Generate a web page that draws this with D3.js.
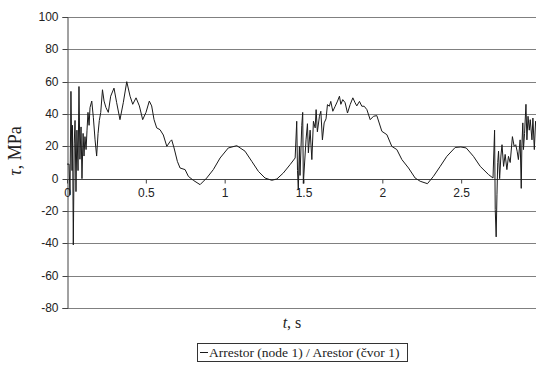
<!DOCTYPE html>
<html><head><meta charset="utf-8">
<script src="https://cdn.jsdelivr.net/npm/d3@7"></script>
<style>html,body{margin:0;padding:0;background:#fff;}svg{display:block;}</style>
</head><body>
<svg id="chart" width="536" height="370"></svg>
<script>
// Time (s) and shear stress (MPa)
const times = [0.000,0.013,0.019,0.025,0.032,0.035,0.040,0.046,0.051,0.057,0.063,0.070,0.076,0.082,0.089,0.095,0.102,0.108,0.114,0.121,0.127,0.133,0.140,0.146,0.157,0.167,0.178,0.188,0.197,0.205,0.214,0.225,0.235,0.247,0.262,0.277,0.298,0.315,0.336,0.357,0.379,0.400,0.417,0.438,0.459,0.480,0.501,0.522,0.537,0.552,0.569,0.590,0.611,0.633,0.654,0.664,0.679,0.700,0.717,0.749,0.770,0.801,0.844,0.886,0.928,0.971,1.023,1.077,1.129,1.172,1.214,1.256,1.299,1.331,1.372,1.415,1.447,
1.457,1.462,1.467,1.474,1.478,1.489,1.495,1.499,1.516,1.525,1.531,1.542,1.553,1.563,1.574,1.580,1.588,1.601,1.610,1.620,1.631,1.643,1.652,1.664,1.673,1.686,1.701,1.716,1.728,1.737,1.749,1.764,1.779,1.796,1.813,1.827,1.838,1.855,1.870,1.885,1.902,1.923,1.944,1.965,1.997,2.029,2.060,2.092,2.124,2.166,2.208,2.240,2.286,2.324,2.367,2.409,2.462,2.498,2.532,2.578,2.621,2.674,2.702,
2.712,2.716,2.722,2.727,2.732,2.737,2.744,2.752,2.759,2.769,2.779,2.790,2.800,2.811,2.825,2.836,2.846,2.855,2.863,2.874,2.881,2.885,2.891,2.895,2.902,2.911,2.917,2.924,2.932,2.938,2.949,2.955,2.964,2.972,2.983];
const stress = [9,9,-10,54,5,33,-41,22,36,-8,30,5,57,12,32,0,28,14,26,18,30,41,33,44,48,38,24,14,28,36,41,55,48,44,41,51,56,47,36.5,47,60,51,46,50,45,36.5,41,48,45,36.5,31.4,30.3,27,20,23,24,19,10.7,6.6,5.6,1.4,-1,-3.7,0.4,5.6,12.8,19,20.4,17,10.7,4.5,0.4,-1,-0.2,3.5,8.7,12.8,
35.5,5,-7,20,2,33,41,-3,24,34,16,30,11.8,35.5,31.4,42.7,29,38.6,41.7,24,34.5,37,45.8,44.8,47.8,41.7,44.8,48,51,46,48.9,47,40.6,45.8,50,47,45,47.8,44.8,44.8,42.7,36.5,38.6,39,29.3,27.2,20,18,11.8,6.6,0.4,-1.6,-3.1,1.4,7.6,13.8,19.3,19.6,19,13.8,7.6,2.5,0.4,
30,-19,-36,-10,10,17,0,14,21,7.6,15,5.6,13.8,10,26,20,21,17,11.8,24,-6,20,34.5,18,28,46,24,38.6,30,36.5,24,37.5,18,35.5,30];
const yTicks = [-80,-60,-40,-20,0,20,40,60,80,100];
const xTicks = [0,0.5,1,1.5,2,2.5];
const yLabel = "τ, MPa";
const xLabel = "t, s";
const legendLabel = "Arrestor (node 1) / Arestor (čvor 1)";

const data = times.map((t,i)=>({t, v: stress[i]}));
const svg = d3.select("#chart");
const x = d3.scaleLinear().domain([0,3]).range([67,540]);
const y = d3.scaleLinear().domain([-80,100]).range([308,17]);

// gridlines
svg.append("g").selectAll("line").data(yTicks).join("line")
  .attr("x1", x(0)).attr("x2", 536)
  .attr("y1", d=>Math.round(y(d))+0.5).attr("y2", d=>Math.round(y(d))+0.5)
  .attr("stroke", "#808080").attr("stroke-width", 1);

// y axis
const yAxis = d3.axisLeft(y).tickValues(yTicks).tickSize(5).tickPadding(4).tickFormat(d=>String(d));
const gy = svg.append("g").attr("transform", `translate(${Math.round(x(0))+0.5},0)`).call(yAxis);
gy.select(".domain").attr("stroke", "#444");
gy.selectAll(".tick line").attr("stroke", "#444");
gy.selectAll(".tick text").attr("font-family", "Liberation Sans, Arial, sans-serif").attr("font-size", 12).attr("fill", "#222");
gy.selectAll(".tick").attr("transform", d=>`translate(0,${Math.round(y(d))+0.5})`);

// x axis along zero line
const xAxis = d3.axisBottom(x).tickValues(xTicks).tickSize(4).tickPadding(5).tickFormat(d=>String(d));
const gx = svg.append("g").attr("transform", `translate(0,${Math.round(y(0))+0.5})`).call(xAxis);
gx.select(".domain").attr("stroke", "#444").attr("d", `M${x(0)},0H536`);
gx.selectAll(".tick line").attr("stroke", "#444");
gx.selectAll(".tick text").attr("font-family", "Liberation Sans, Arial, sans-serif").attr("font-size", 12).attr("fill", "#222");

// series
const line = d3.line().x(d=>x(d.t)).y(d=>y(d.v));
svg.append("path").datum(data).attr("d", line)
  .attr("fill", "none").attr("stroke", "#1a1a1a").attr("stroke-width", 1).attr("stroke-linejoin", "round");

// axis titles
const yt = svg.append("text").attr("transform", "translate(21,151) rotate(-90)")
  .attr("text-anchor", "middle").attr("font-family", "Liberation Serif, Times New Roman, serif").attr("font-size", 18).attr("fill", "#222");
yt.append("tspan").attr("font-style", "italic").text(yLabel.slice(0,1));
yt.append("tspan").text(yLabel.slice(1));
const xt = svg.append("text").attr("x", 292).attr("y", 328)
  .attr("text-anchor", "middle").attr("font-family", "Liberation Serif, Times New Roman, serif").attr("font-size", 16).attr("fill", "#222");
xt.append("tspan").attr("font-style", "italic").text(xLabel.slice(0,1));
xt.append("tspan").text(xLabel.slice(1));

// legend
const lg = svg.append("g");
lg.append("rect").attr("x", 197.5).attr("y", 343.5).attr("width", 210).attr("height", 18)
  .attr("fill", "#fff").attr("stroke", "#333").attr("stroke-width", 1);
lg.append("line").attr("x1", 200).attr("x2", 208).attr("y1", 352.5).attr("y2", 352.5).attr("stroke", "#1a1a1a");
lg.append("text").attr("x", 209).attr("y", 357).attr("font-family", "Liberation Serif, Times New Roman, serif")
  .attr("font-size", 13.5).attr("fill", "#222").text(legendLabel);
</script>
</body></html>
